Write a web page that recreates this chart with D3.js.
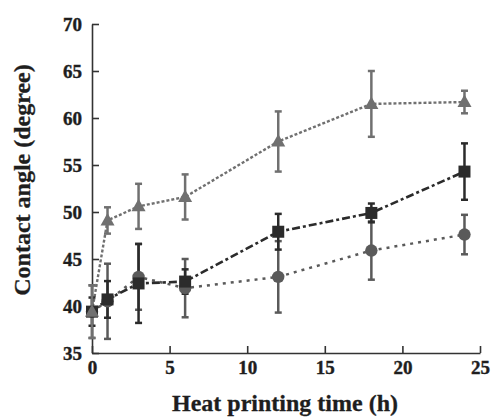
<!DOCTYPE html>
<html>
<head>
<meta charset="utf-8">
<script src="https://cdn.jsdelivr.net/npm/d3@7"></script>
<style>
  body { margin: 0; background: #fff; }
  text { font-family: "Liberation Serif", "Times New Roman", serif; font-weight: bold; fill: #1e1e1e; }
</style>
</head>
<body>
<script>
// contact angle vs heat printing time

var width = 491,
	height = 418,
	margin = {top: 24, right: 11, bottom: 65, left: 92};

var times = [0, 1, 3, 6, 12, 18, 24];

// circles
var circleMean = [39.4, 40.5, 43.1, 41.9, 43.1, 45.9, 47.6];
var circleErr  = [2.8, 4.0, 3.5, 3.1, 3.8, 3.1, 2.1];

// squares
var squareMean = [39.4, 40.7, 42.4, 42.6, 47.9, 49.9, 54.3];
var squareErr  = [1.5, 1.95, 4.2, 1.3, 1.9, 1.0, 3.0];

// triangles
var triMean = [39.4, 49.1, 50.6, 51.6, 57.5, 61.5, 61.7];
var triErr  = [2.8, 1.4, 2.4, 2.4, 3.2, 3.5, 1.2];

var xTicks = [0, 5, 10, 15, 20, 25];
var yTicks = [35, 40, 45, 50, 55, 60, 65, 70];

var svg = d3.select('body').append('svg')
	.attr('width', width)
	.attr('height', height);

var g = svg.append('g')
	.attr('transform', 'translate(' + margin.left + ',' + margin.top + ')');

var w = width - margin.left - margin.right,
	h = height - margin.top - margin.bottom;

var x = d3.scaleLinear().domain([0, 25]).range([0, w]);
var y = d3.scaleLinear().domain([35, 70]).range([h, 0]);

// axes, ticks point inward
var xAxis = g.append('g')
	.attr('transform', 'translate(0,' + h + ')')
	.call(d3.axisBottom(x).tickValues(xTicks).tickSize(-7).tickPadding(8).tickSizeOuter(0));

var yAxis = g.append('g')
	.call(d3.axisLeft(y).tickValues(yTicks).tickSize(-7).tickPadding(10).tickSizeOuter(0));

[xAxis, yAxis].forEach(function(a){
	a.attr('font-family', '"Liberation Serif", serif')
		.attr('font-size', 19)
		.attr('font-weight', 'bold');
	a.select('.domain').attr('stroke', '#333').attr('stroke-width', 1.6);
	a.selectAll('.tick line').attr('stroke', '#333').attr('stroke-width', 1.6);
	a.selectAll('.tick text')
		.style('font-size', '19px')
		.style('font-weight', '700')
		.attr('fill', '#1e1e1e')
		.attr('stroke', '#1e1e1e')
		.attr('stroke-width', 0.4);
});

// axis titles
svg.append('text')
	.attr('x', 285)
	.attr('y', 411)
	.attr('text-anchor', 'middle')
	.attr('stroke', '#1e1e1e')
	.attr('stroke-width', 0.3)
	.style('font-size', '24px')
	.text('Heat printing time (h)');

svg.append('text')
	.attr('transform', 'translate(30,180) rotate(-90)')
	.attr('text-anchor', 'middle')
	.attr('stroke', '#1e1e1e')
	.attr('stroke-width', 0.3)
	.style('font-size', '24px')
	.text('Contact angle (degree)');

var series = [
	{name: 'circle', mean: circleMean, err: circleErr, color: '#5a5a5a', dash: '3,5', lw: 2.5},
	{name: 'square', mean: squareMean, err: squareErr, color: '#2b2b2b', dash: '8,3,3,3', lw: 2.6},
	{name: 'triangle', mean: triMean, err: triErr, color: '#707070', dash: '3,2', lw: 2.4}
];

var line = d3.line()
	.x(function(d){ return x(d.t); })
	.y(function(d){ return y(d.v); });

series.forEach(function(s){
	s.pts = times.map(function(t, i){ return {t: t, v: s.mean[i], e: s.err[i]}; });
});

// lines
series.forEach(function(s){
	g.append('path')
		.datum(s.pts)
		.attr('fill', 'none')
		.attr('stroke', s.color)
		.attr('stroke-width', s.lw)
		.attr('stroke-dasharray', s.dash)
		.attr('d', line);
});

// error bars + markers
series.forEach(function(s){
	var eb = g.append('g').attr('stroke', s.color).attr('stroke-width', 2.5);
	eb.selectAll('.bar')
		.data(s.pts)
		.enter().append('line')
		.attr('x1', function(d){ return x(d.t); })
		.attr('x2', function(d){ return x(d.t); })
		.attr('y1', function(d){ return y(d.v - d.e); })
		.attr('y2', function(d){ return y(d.v + d.e); });
	[-1, 1].forEach(function(sign){
		eb.selectAll('.cap' + sign)
			.data(s.pts)
			.enter().append('line')
			.attr('x1', function(d){ return x(d.t) - 3.5; })
			.attr('x2', function(d){ return x(d.t) + 3.5; })
			.attr('y1', function(d){ return y(d.v + sign * d.e); })
			.attr('y2', function(d){ return y(d.v + sign * d.e); });
	});
});

series.forEach(function(s){
	var m = g.append('g').attr('fill', s.color);
	if (s.name === 'circle') {
		m.selectAll('circle').data(s.pts).enter().append('circle')
			.attr('cx', function(d){ return x(d.t); })
			.attr('cy', function(d){ return y(d.v); })
			.attr('r', 6.2);
	} else if (s.name === 'square') {
		m.selectAll('rect').data(s.pts).enter().append('rect')
			.attr('x', function(d){ return x(d.t) - 6; })
			.attr('y', function(d){ return y(d.v) - 6; })
			.attr('width', 12)
			.attr('height', 12);
	} else {
		m.selectAll('path').data(s.pts).enter().append('path')
			.attr('d', function(d){
				var cx = x(d.t), cy = y(d.v);
				return 'M' + cx + ',' + (cy - 7.5) + 'L' + (cx + 7) + ',' + (cy + 5) + 'L' + (cx - 7) + ',' + (cy + 5) + 'Z';
			});
	}
});
</script>
</body>
</html>
